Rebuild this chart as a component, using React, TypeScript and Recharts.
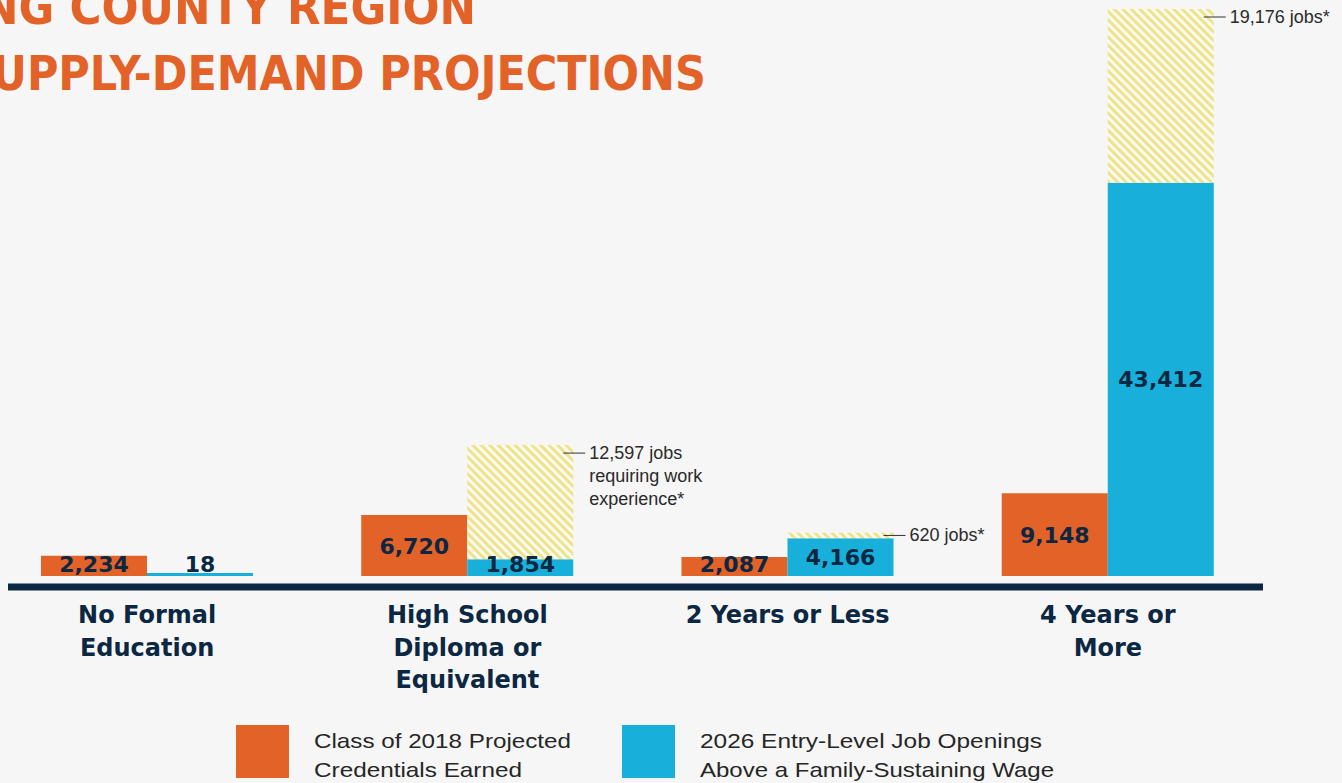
import React from "react";
import { BarChart, Bar, XAxis, YAxis, LabelList } from "recharts";

// education level buckets (line breaks = how the axis label wraps)
const categories = [
  "No Formal\nEducation",
  "High School\nDiploma or\nEquivalent",
  "2 Years or Less",
  "4 Years or\nMore",
];
const credentials = [2234, 6720, 2087, 9148]; // class of 2018
const jobOpenings = [18, 1854, 4166, 43412]; // 2026 entry-level openings
const experienceJobs = [0, 12597, 620, 19176]; // jobs requiring work experience
const experienceNotes = [
  "",
  "12,597 jobs\nrequiring work\nexperience*",
  "620 jobs*",
  "19,176 jobs*",
];

const titleLines = ["NG COUNTY REGION", "UPPLY-DEMAND PROJECTIONS"];
const legendLabels = [
  "Class of 2018 Projected\nCredentials Earned",
  "2026 Entry-Level Job Openings\nAbove a Family-Sustaining Wage",
];

const ORANGE = "#E26228";
const BLUE = "#18AFDA";
const NAVY = "#0B2742";
const BG = "#F5F6F5";

const rows = categories.map((category, i) => ({
  category,
  credentials: credentials[i],
  jobs: jobOpenings[i],
  experience: experienceJobs[i] || null,
}));

const boxOf = (props: any) => ({ ...props, ...(props.viewBox || {}) });

const rawValue = (v: any) => (Array.isArray(v) ? v[1] - v[0] : Number(v));

const CategoryTick = (props: any) => {
  const { x, y, payload } = props;
  const lines = String(payload.value).split("\n");
  return (
    <text
      x={x}
      y={y}
      textAnchor="middle"
      fill={NAVY}
      fontFamily="DejaVu Sans"
      fontWeight="bold"
      fontSize={24}
    >
      {lines.map((l, i) => (
        <tspan key={i} x={x} y={y + 36 + i * 32.5}>
          {l}
        </tspan>
      ))}
    </text>
  );
};

const ValueLabel = (props: any) => {
  const { x, y, width, height } = boxOf(props);
  const value = rawValue(props.value);
  if (!value) return null;
  const bottom = y + height;
  // small bars push the number up so it stays readable
  const cy = Math.min(y + height / 2, bottom - 12);
  return (
    <text
      x={x + width / 2}
      y={cy + 8}
      textAnchor="middle"
      fill={NAVY}
      fontFamily="DejaVu Sans"
      fontWeight="bold"
      fontSize={22}
    >
      {value.toLocaleString("en-US")}
    </text>
  );
};

const NoteLabel = (props: any) => {
  const { x, y, width, height } = boxOf(props);
  const idx = experienceJobs.indexOf(rawValue(props.value));
  const note = experienceNotes[idx];
  if (!note) return null;
  const right = x + width;
  const lineY = y + Math.min(8, Math.abs(height) / 2);
  return (
    <g>
      <line x1={right - 10} x2={right + 12} y1={lineY} y2={lineY} stroke="#333" strokeWidth={1} />
      <text x={right + 16} y={lineY + 6} fontFamily="Liberation Sans" fontSize={18} fill="#2a2a2a">
        {note.split("\n").map((l, i) => (
          <tspan key={i} x={right + 16} dy={i === 0 ? 0 : 23}>
            {l}
          </tspan>
        ))}
      </text>
    </g>
  );
};

const Overlay = () => (
  <svg width={1342} height={783} style={{ position: "absolute", left: 0, top: 0, pointerEvents: "none" }}>
    <g fill={ORANGE} fontFamily="'Liberation Sans Narrow', 'DejaVu Sans Condensed', sans-serif" fontWeight="bold" fontSize={48}>
      <text x={-18} y={24} textLength={494} lengthAdjust="spacingAndGlyphs">
        {titleLines[0]}
      </text>
      <text x={-8} y={90} textLength={714} lengthAdjust="spacingAndGlyphs">
        {titleLines[1]}
      </text>
    </g>
    {legendLabels.map((label, i) => {
      const left = i === 0 ? 236 : 622;
      const widths = i === 0 ? [257, 208] : [342, 354];
      return (
        <g key={i}>
          <rect x={left} y={725} width={53} height={53} fill={i === 0 ? ORANGE : BLUE} />
          {label.split("\n").map((l, j) => (
            <text
              key={j}
              x={left + 78}
              y={748 + j * 29}
              fontFamily="Liberation Sans"
              fontSize={21}
              fill="#262626"
              textLength={widths[j]}
              lengthAdjust="spacingAndGlyphs"
            >
              {l}
            </text>
          ))}
        </g>
      );
    })}
  </svg>
);

export default function App() {
  return (
    <div
      style={{
        position: "absolute",
        left: 0,
        top: 0,
        width: 1342,
        height: 783,
        background: BG,
        overflow: "hidden",
      }}
    >
      <div style={{ position: "absolute", left: 0, top: 0 }}>
        <BarChart
          width={1342}
          height={783}
          data={rows}
          margin={{ top: 9, right: 79, bottom: 0, left: 8 }}
          barGap={0}
          barSize={106}
        >
          <defs>
            <pattern id="hatch" patternUnits="userSpaceOnUse" width={6} height={6} patternTransform="rotate(-45)">
              <rect width={6} height={6} fill="#FAFAF1" />
              <rect width={3} height={6} fill="#EEE38A" />
            </pattern>
          </defs>
          <XAxis
            dataKey="category"
            height={196}
            padding={{ left: -21, right: -5 }}
            tickLine={false}
            tickSize={0}
            tickMargin={0}
            interval={0}
            axisLine={{ stroke: NAVY, strokeWidth: 7 }}
            tick={<CategoryTick />}
          />
          <YAxis hide domain={[-1214, 62588]} />
          <Bar dataKey="credentials" stackId="cred" fill={ORANGE} isAnimationActive={false}>
            <LabelList dataKey="credentials" content={ValueLabel} />
          </Bar>
          <Bar dataKey="jobs" stackId="jobs" fill={BLUE} minPointSize={3} isAnimationActive={false}>
            <LabelList dataKey="jobs" content={ValueLabel} />
          </Bar>
          <Bar dataKey="experience" stackId="jobs" fill="url(#hatch)" isAnimationActive={false}>
            <LabelList dataKey="experience" content={NoteLabel} />
          </Bar>
        </BarChart>
      </div>
      <Overlay />
    </div>
  );
}
